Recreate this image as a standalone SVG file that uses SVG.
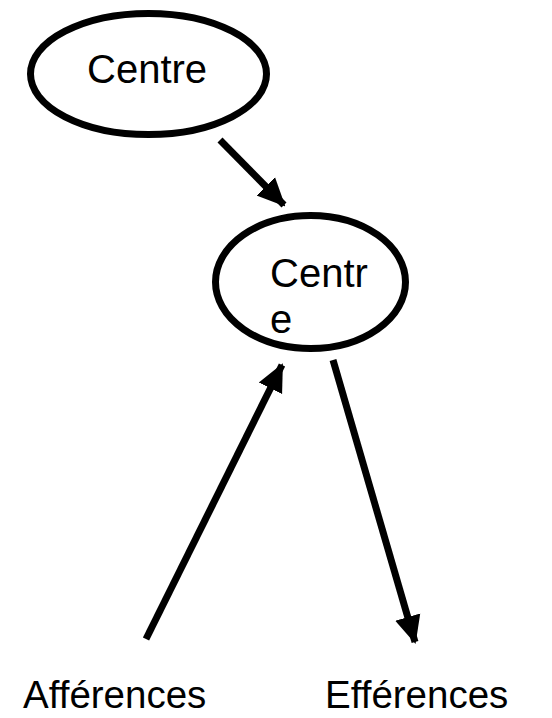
<svg xmlns="http://www.w3.org/2000/svg" width="552" height="718" viewBox="0 0 552 718">
<style>
.node{fill:#fff;stroke:#000;stroke-width:7}
.lbl{font-family:"Liberation Sans",Arial,sans-serif;font-size:40px;fill:#000}
.sm{font-size:38.5px}
.edge{stroke:#000;stroke-width:7;fill:none}
</style>
<defs>
<marker id="ah" markerUnits="userSpaceOnUse" markerWidth="28" markerHeight="28" viewBox="0 0 28 28" refX="26" refY="14" orient="auto">
<path d="M0,1 L28,14 L0,27 Z" fill="#000"/>
</marker>
</defs>
<rect width="552" height="718" fill="#fff"/>
<g id="connectors">
<line class="edge" x1="220" y1="140" x2="284" y2="205" marker-end="url(#ah)"/>
<line class="edge" x1="146" y1="639" x2="282" y2="365" marker-end="url(#ah)"/>
<line class="edge" x1="333" y1="360" x2="415" y2="642" marker-end="url(#ah)"/>
</g>
<g id="node1">
<ellipse class="node" cx="148.5" cy="74" rx="118" ry="60.5"/>
<text class="lbl" x="87" y="83">Centre</text>
</g>
<g id="node2">
<ellipse class="node" cx="310.5" cy="282" rx="95" ry="66.5"/>
<text class="lbl" x="270" y="287">Centr</text>
<text class="lbl" x="270" y="333">e</text>
</g>
<g id="aff">
<text class="lbl sm" x="23" y="708">Afférences</text>
</g>
<g id="eff">
<text class="lbl sm" x="325" y="708">Efférences</text>
</g>
</svg>
